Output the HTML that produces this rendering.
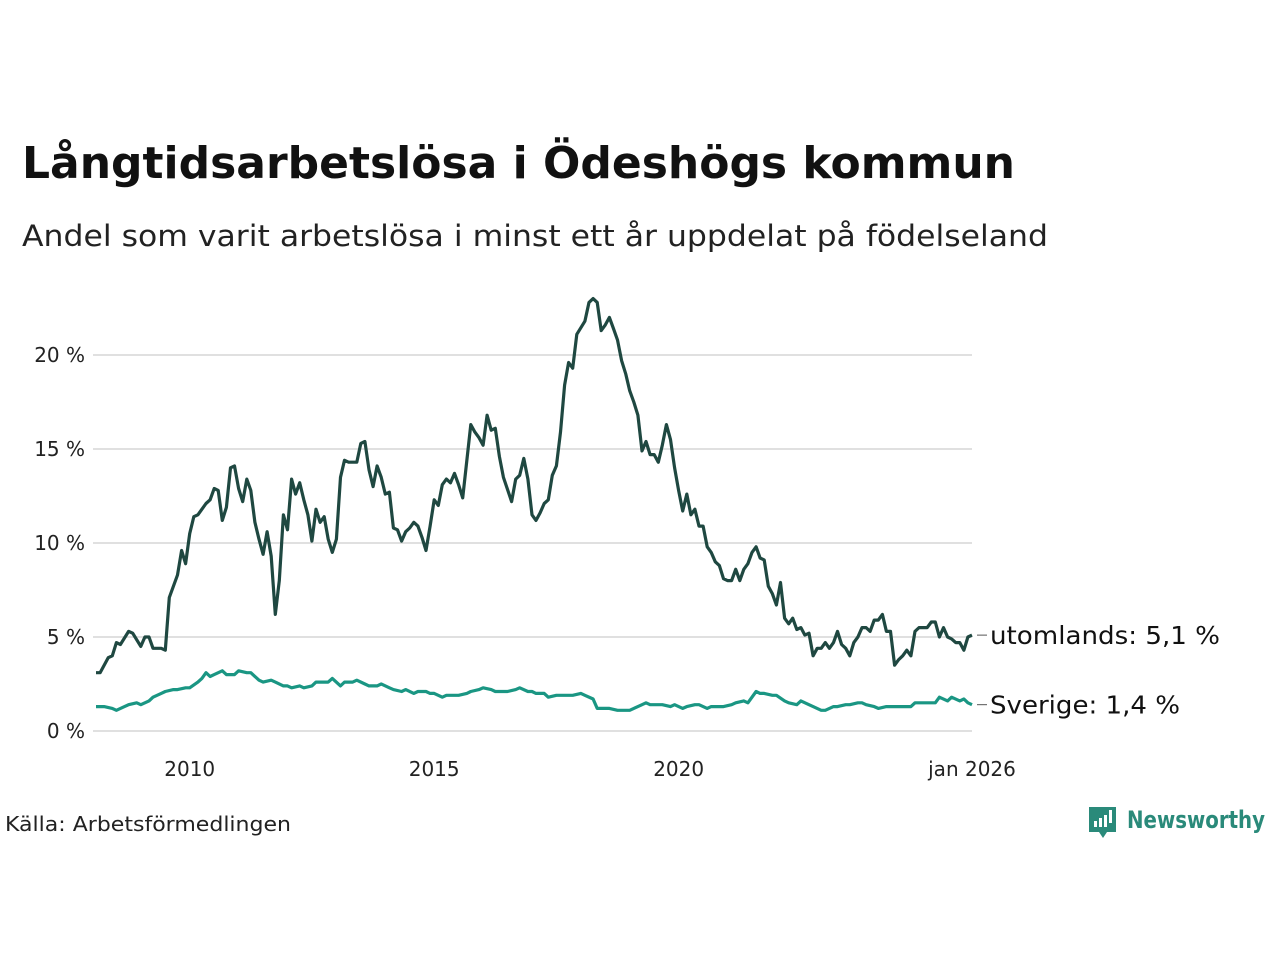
<!DOCTYPE html>
<html><head><meta charset="utf-8"><style>
html,body{margin:0;padding:0;background:#fff;}
body{width:1280px;height:960px;overflow:hidden;font-family:"DejaVu Sans","Liberation Sans",sans-serif;}
</style></head><body>
<svg id="chart" width="1280" height="960" xmlns="http://www.w3.org/2000/svg" font-family="DejaVu Sans, Liberation Sans, sans-serif">
<text x="22" y="178" font-size="44" font-weight="bold" fill="#111" textLength="993" lengthAdjust="spacingAndGlyphs">Långtidsarbetslösa i Ödeshögs kommun</text>
<text x="22" y="246" font-size="29" fill="#222" textLength="1026" lengthAdjust="spacingAndGlyphs">Andel som varit arbetslösa i minst ett år uppdelat på födelseland</text>
<g id="grid"></g>
<g id="series"></g>
<g id="xaxis"></g>
<text x="5" y="831" font-size="20" fill="#222" textLength="286" lengthAdjust="spacingAndGlyphs">Källa: Arbetsförmedlingen</text>
<g>
<path d="M1089 807 h27 v25 h-9 l-4 6 l-4 -6 h-10 z" fill="#2a8a7a"/>
<rect x="1094" y="821" width="3" height="6" fill="#fff"/><rect x="1099" y="818" width="3" height="9" fill="#fff"/><rect x="1104" y="815" width="3" height="12" fill="#fff"/><rect x="1109" y="810" width="3" height="13" fill="#fff"/>
<text x="1127" y="828" font-size="24" font-weight="bold" fill="#2a8a7a" textLength="138" lengthAdjust="spacingAndGlyphs">Newsworthy</text>
</g>
</svg>
<script>
const yTicks=[0,5,10,15,20];
const yTickLabels=["0 %","5 %","10 %","15 %","20 %"];
const xTickMonths=[23,83,143,215];
const xTickLabels=["2010","2015","2020","jan 2026"];
const utlMonths=[0,1,3,4,5,6,8,9,11,12,13,14,16,17,18,20,21,22,23,24,25,27,28,29,30,31,32,33,34,35,36,37,38,39,40,41,42,43,44,45,46,47,48,49,50,51,52,53,54,55,56,57,58,59,60,61,62,64,65,66,67,68,69,70,71,72,73,74,75,76,77,78,79,80,81,82,83,84,85,86,87,88,89,90,92,93,94,95,96,97,98,99,100,102,103,104,105,106,107,108,109,110,111,112,113,114,115,116,117,118,120,121,122,123,124,125,126,127,128,129,130,131,132,133,134,135,136,137,138,139,140,141,142,143,144,145,146,147,148,149,150,151,152,153,154,155,156,157,158,159,160,161,162,163,164,165,166,167,168,169,170,171,172,173,174,175,176,177,178,179,180,181,182,183,184,185,186,187,188,189,190,191,192,193,194,195,196,197,198,199,200,201,202,203,204,205,206,207,208,209,210,211,212,213,214,215];
const utlValues=[3.1,3.1,3.9,4.0,4.7,4.6,5.3,5.2,4.5,5.0,5.0,4.4,4.4,4.3,7.1,8.3,9.6,8.9,10.5,11.4,11.5,12.1,12.3,12.9,12.8,11.2,11.9,14.0,14.1,12.9,12.2,13.4,12.8,11.1,10.2,9.4,10.6,9.3,6.2,8.0,11.5,10.7,13.4,12.6,13.2,12.3,11.5,10.1,11.8,11.1,11.4,10.2,9.5,10.2,13.5,14.4,14.3,14.3,15.3,15.4,13.9,13.0,14.1,13.5,12.6,12.7,10.8,10.7,10.1,10.6,10.8,11.1,10.9,10.3,9.6,10.9,12.3,12.0,13.1,13.4,13.2,13.7,13.1,12.4,16.3,15.9,15.6,15.2,16.8,16.0,16.1,14.6,13.5,12.2,13.4,13.6,14.5,13.4,11.5,11.2,11.6,12.1,12.3,13.6,14.1,15.9,18.4,19.6,19.3,21.1,21.8,22.8,23.0,22.8,21.3,21.6,22.0,21.4,20.8,19.7,19.0,18.1,17.5,16.8,14.9,15.4,14.7,14.7,14.3,15.2,16.3,15.5,14.0,12.8,11.7,12.6,11.5,11.8,10.9,10.9,9.8,9.5,9.0,8.8,8.1,8.0,8.0,8.6,8.0,8.6,8.9,9.5,9.8,9.2,9.1,7.7,7.3,6.7,7.9,6.0,5.7,6.0,5.4,5.5,5.1,5.2,4.0,4.4,4.4,4.7,4.4,4.7,5.3,4.6,4.4,4.0,4.7,5.0,5.5,5.5,5.3,5.9,5.9,6.2,5.3,5.3,3.5,3.8,4.0,4.3,4.0,5.3,5.5,5.5,5.5,5.8,5.8,5.0,5.5,5.0,4.9,4.7,4.7,4.3,5.0,5.1];
const sveMonths=[0,2,4,5,7,8,10,11,13,14,16,17,19,20,22,23,25,26,27,28,29,31,32,34,35,37,38,40,41,43,44,46,47,48,50,51,53,54,56,57,58,60,61,63,64,66,67,69,70,72,73,75,76,78,79,81,82,83,85,86,88,89,91,92,94,95,97,98,100,101,103,104,106,107,108,110,111,113,114,116,117,119,120,122,123,125,126,128,129,131,132,134,135,136,138,139,141,142,144,145,147,148,150,151,153,154,156,157,159,160,162,163,164,166,167,169,170,172,173,175,176,178,179,181,182,184,185,187,188,189,191,192,194,195,197,198,200,201,203,204,206,207,209,210,212,213,214,215];
const sveValues=[1.3,1.3,1.2,1.1,1.3,1.4,1.5,1.4,1.6,1.8,2.0,2.1,2.2,2.2,2.3,2.3,2.6,2.8,3.1,2.9,3.0,3.2,3.0,3.0,3.2,3.1,3.1,2.7,2.6,2.7,2.6,2.4,2.4,2.3,2.4,2.3,2.4,2.6,2.6,2.6,2.8,2.4,2.6,2.6,2.7,2.5,2.4,2.4,2.5,2.3,2.2,2.1,2.2,2.0,2.1,2.1,2.0,2.0,1.8,1.9,1.9,1.9,2.0,2.1,2.2,2.3,2.2,2.1,2.1,2.1,2.2,2.3,2.1,2.1,2.0,2.0,1.8,1.9,1.9,1.9,1.9,2.0,1.9,1.7,1.2,1.2,1.2,1.1,1.1,1.1,1.2,1.4,1.5,1.4,1.4,1.4,1.3,1.4,1.2,1.3,1.4,1.4,1.2,1.3,1.3,1.3,1.4,1.5,1.6,1.5,2.1,2.0,2.0,1.9,1.9,1.6,1.5,1.4,1.6,1.4,1.3,1.1,1.1,1.3,1.3,1.4,1.4,1.5,1.5,1.4,1.3,1.2,1.3,1.3,1.3,1.3,1.3,1.5,1.5,1.5,1.5,1.8,1.6,1.8,1.6,1.7,1.5,1.4];
const seriesLabels=["utomlands: 5,1 %","Sverige: 1,4 %"];

const NS="http://www.w3.org/2000/svg";
const X0=96,X1=972,M1=215,Y0=731,PXPCT=18.8;
function xs(m){return X0+(X1-X0)*m/M1;}
function ys(v){return Y0-v*PXPCT;}
const grid=document.getElementById('grid');
yTicks.forEach((t,i)=>{
  const l=document.createElementNS(NS,'line');
  
  
  l.setAttribute('x1',93);l.setAttribute('x2',972);l.setAttribute('y1',ys(t));l.setAttribute('y2',ys(t));
  l.setAttribute('stroke','#e0e0e0');l.setAttribute('stroke-width','2');
  grid.appendChild(l);
  const tx=document.createElementNS(NS,'text');
  
  
  tx.setAttribute('x',85);tx.setAttribute('y',ys(t)+7);tx.setAttribute('text-anchor','end');
  tx.setAttribute('font-size','20');tx.setAttribute('fill','#222');
  tx.textContent=yTickLabels[i];grid.appendChild(tx);
});
const xa=document.getElementById('xaxis');
xTickMonths.forEach((m,i)=>{
  const tx=document.createElementNS(NS,'text');
  
  
  tx.setAttribute('x',xs(m));tx.setAttribute('y',776);tx.setAttribute('text-anchor','middle');
  tx.setAttribute('font-size','20');tx.setAttribute('fill','#222');
  tx.textContent=xTickLabels[i];xa.appendChild(tx);
});
const sg=document.getElementById('series');
function drawLine(ms,vs,color,name,label,lw){
  const p=document.createElementNS(NS,'path');
  
  
  p.setAttribute('d',ms.map((m,i)=>(i?'L':'M')+xs(m).toFixed(1)+' '+ys(vs[i]).toFixed(1)).join(''));
  p.setAttribute('fill','none');p.setAttribute('stroke',color);p.setAttribute('stroke-width','3.2');p.setAttribute('stroke-linejoin','round');
  sg.appendChild(p);
  const yy=ys(vs[vs.length-1]);
  const d=document.createElementNS(NS,'line');
  
  
  d.setAttribute('x1',977);d.setAttribute('x2',987);d.setAttribute('y1',yy);d.setAttribute('y2',yy);
  d.setAttribute('stroke','#555');d.setAttribute('stroke-width','1');sg.appendChild(d);
  const t=document.createElementNS(NS,'text');
  
  
  t.setAttribute('x',990);t.setAttribute('y',yy+9);t.setAttribute('font-size','25');t.setAttribute('fill','#111');
  t.setAttribute('textLength',lw);t.setAttribute('lengthAdjust','spacingAndGlyphs');
  t.textContent=label;sg.appendChild(t);
}
drawLine(sveMonths,sveValues,'#1a9683','line-sverige',seriesLabels[1],190);
drawLine(utlMonths,utlValues,'#1f4841','line-utomlands',seriesLabels[0],230);
</script>
</body></html>
